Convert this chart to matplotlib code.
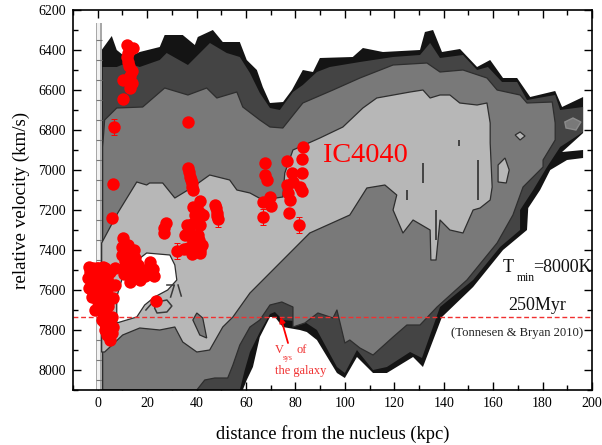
import matplotlib
matplotlib.use("Agg")
from matplotlib import pyplot as plt
from matplotlib.ticker import MultipleLocator

plt.rcParams['font.family'] = ['Liberation Serif', 'DejaVu Serif']

# contour outlines of the simulation map, kpc / km/s
black_x = [1.6, 1.6, 5.7, 7.7, 11.7, 17, 25.1, 27.1, 34.4, 39.3, 40.5, 46.6, 50.6, 57.5, 60.3, 64.4, 66.8, 69.7, 75, 78.6, 83, 87.1, 89.9, 103.2, 107.3, 115.4, 130.4, 132.4, 135.7, 139.3, 146.6, 153.5, 158.8, 164, 169.7, 175, 185.1, 187.9, 196.4, 196.4, 187.9, 196.4, 196.4, 189.9, 183.1, 179, 174.2, 173.7, 164, 151.9, 139.3, 131.6, 127.6, 117, 111.4, 104.9, 100, 96.8, 88.7, 84.6, 81.8, 74.9, 71.7, 69.7, 65.6, 62.8, 60.3, 58.7]
black_y = [8100, 6400, 6330, 6400, 6440, 6410, 6385, 6325, 6325, 6375, 6335, 6300, 6360, 6360, 6450, 6500, 6585, 6665, 6660, 6600, 6500, 6510, 6440, 6435, 6390, 6410, 6400, 6310, 6300, 6410, 6395, 6485, 6450, 6540, 6540, 6635, 6605, 6685, 6635, 6815, 6910, 6900, 6940, 6950, 7000, 7100, 7190, 7300, 7400, 7585, 7735, 7985, 7935, 8015, 8015, 7935, 8040, 8015, 7850, 7810, 7800, 7785, 7735, 7735, 7835, 7985, 8050, 8100]

dark_x = [2, 2, 7.7, 11.7, 17, 25.1, 27.9, 36.5, 45.4, 52.2, 57.5, 61.6, 65.6, 69.7, 73.7, 79, 83, 88.7, 93.9, 106.1, 119.5, 130.4, 134.5, 138.5, 147.8, 153.5, 157.9, 163.6, 169.7, 173.7, 185.1, 187.1, 196.4, 196.4, 187.1, 181.8, 176.2, 170.9, 170.9, 162.8, 151.9, 138.5, 131.2, 126.4, 117, 111.4, 104.9, 100, 96.8, 88.7, 83.8, 74.9, 71.7, 69.7, 65.6, 61.6, 59.5, 57.5]
dark_y = [8100, 6485, 6485, 6465, 6485, 6450, 6415, 6475, 6365, 6415, 6435, 6515, 6615, 6690, 6700, 6610, 6575, 6510, 6485, 6460, 6435, 6425, 6365, 6440, 6425, 6500, 6485, 6560, 6560, 6650, 6625, 6700, 6685, 6810, 6885, 6985, 7100, 7200, 7300, 7385, 7550, 7685, 7940, 7910, 7985, 8000, 7900, 8015, 7985, 7800, 7760, 7750, 7710, 7720, 7810, 7910, 8000, 8100]

medium_x = [2, 2, 2.8, 7.7, 18.2, 27.1, 36.5, 44.1, 48.2, 56.3, 58.7, 65.6, 69.7, 74.9, 83, 95.2, 106.1, 119.5, 133.2, 138.5, 147.8, 157.5, 161.6, 170.9, 173.7, 183.9, 185.1, 185.1, 180.2, 180.2, 172.1, 168, 161.6, 149.4, 137.3, 130.4, 125.1, 119.5, 111.4, 106.1, 102, 100, 96.8, 95.2, 89.1, 83.8, 79, 79, 74.5, 69.7, 65.6, 61.6, 57.5, 54.7, 52.6, 47.4, 43.3, 40.1]
medium_y = [8100, 6885, 6750, 6690, 6685, 6590, 6625, 6590, 6640, 6610, 6685, 6750, 6785, 6790, 6665, 6600, 6540, 6475, 6465, 6510, 6500, 6540, 6600, 6625, 6665, 6660, 6765, 6850, 6950, 6985, 7085, 7225, 7365, 7550, 7685, 7775, 7775, 7835, 7925, 7890, 7850, 7865, 7700, 7740, 7715, 7765, 7785, 7685, 7660, 7675, 7750, 7785, 7875, 7975, 8040, 8040, 8050, 8100]

light_x = [1.6, 1.6, 8.1, 15.8, 19.8, 21, 26.3, 31.2, 38.5, 45.3, 53.4, 56.3, 61.6, 66.8, 74.9, 75.7, 79, 89.9, 99.2, 107.3, 112.9, 126.4, 131.6, 134.5, 138.5, 142.5, 146.5, 153.5, 157.5, 158.8, 158.8, 159.6, 158.8, 154.7, 151.9, 147.8, 142.5, 138.5, 136.9, 134.8, 134.5, 127.6, 123.5, 119.5, 121, 116.2, 108.9, 102, 85.8, 61.6, 54.7, 50.6, 45.3, 40.1, 34.4, 31.2, 25.1, 17, 10.1, 2.8]
light_y = [7910, 7365, 7215, 7060, 7075, 7065, 7065, 7140, 7085, 7025, 7050, 7100, 7115, 7150, 7135, 7015, 6900, 6840, 6785, 6690, 6640, 6610, 6600, 6640, 6625, 6625, 6665, 6675, 6665, 6765, 6865, 7085, 7150, 7190, 7200, 7315, 7300, 7250, 7450, 7450, 7300, 7250, 7315, 7200, 7125, 7075, 7090, 7225, 7315, 7615, 7735, 7785, 7900, 7910, 7860, 7785, 7800, 7790, 7825, 7910]

core_x = [7.7, 7.7, 10.9, 19.8, 29.2, 31.2, 32, 28.3, 23, 19, 15.8]
core_y = [7765, 7635, 7500, 7415, 7425, 7475, 7550, 7600, 7635, 7675, 7735]

island_x = [40.1, 42.5, 44.1, 41.3, 38.5]
island_y = [7715, 7740, 7840, 7825, 7750]
finger_x = [162, 164.8, 166.5, 165.3, 162]
finger_y = [6975, 6940, 7000, 7065, 7060]
spot_x = [168.9, 170.9, 172.9, 170.9]
spot_y = [6825, 6810, 6830, 6850]
ring_x = [189, 192.3, 195.5, 193.5, 189.5]
ring_y = [6760, 6740, 6760, 6800, 6790]

# thin dark streaks: x, y from, y to
streak_x = [131.6, 153.9, 125.1, 146, 137]
streak_from = [6965, 6950, 7100, 6850, 7200]
streak_to = [7065, 7150, 7150, 6880, 7350]
mark_x = [[24, 28, 30, 28, 24, 23, 24], [28, 31, 29.5], [32.5, 33.8], [19.5, 22]]
mark_y = [[7660, 7650, 7680, 7710, 7715, 7690, 7660], [7575, 7575, 7635], [7575, 7630], [7700, 7665]]

# strip at the left edge of the map and its ticks
strip_ticks = [6350, 6450, 6550, 6650, 6750, 6850, 6950, 7050, 7150, 7250, 7350, 7450, 7550, 7650, 7750, 7850, 7950, 8050]

# measured points
dist = [11.8, 14.2, 12.2, 12.2, 13.8, 10.1, 13.8, 13.0, 10.1, 6.5, 36.5, 6.1, 36.5, 37.3, 38.1, 38.5, 41.3, 38.5, 41.3, 47.4, 48.2, 5.7,
	27.6, 26.7, 26.7, 48.6, 39.3, 42.5, 36, 41.3, 35.3, 40.5, 38.5, 42.1, 41.3, 36.5, 32,
	10.1, 9.7, 12.2, 9.7, 12.2, 13, 16.2, 21.1, 22.3, 22.7, 17, 13, 17, 13, 6.9, 2, 6.9, 6.1, 23.5,
	-3.6, -4, -3.6, -2.4, -1.2, 0.8, 0, 1.6, -0.4, 3.6, 3.6, 5.7, 1.6, 2.8, 6.1, 4.9, 3.6, 5.7, 0.4, 2.4,
	83.1, 82.7, 76.6, 67.7, 67.7, 68.5, 78.6, 82.7, 79, 76.6, 81.8, 82.7, 77, 77.8, 69.7, 66.9, 70.1, 77.4, 66.9, 81.4,
	-3, -2, -1, 0, 1, 2, 3, 4, -2, 0, 1, 2, 3, 4, 5, 3.5, 5, 3, 4, 5, 2, 2,
	10.5, 10.5, 15, 15, 15, 19, 19, 11, 14.5,
	37, 38, 35, 39, 40, 38, 41, 41.5, 38, 40, 48, 48.4, 12, 12.5, 13, 36.9, 37.7, 38.3]
vel = [6375, 6390, 6415, 6460, 6505, 6550, 6565, 6590, 6645, 6785, 6760, 7070, 6990, 7035, 7065, 7100, 7155, 7185, 7215, 7175, 7215, 7240,
	7265, 7315, 7290, 7245, 7225, 7225, 7275, 7275, 7325, 7325, 7365, 7375, 7415, 7390, 7405,
	7340, 7385, 7375, 7425, 7425, 7465, 7475, 7460, 7495, 7530, 7550, 7560, 7510, 7515, 7490, 7485, 7575, 7640, 7655,
	7485, 7540, 7590, 7635, 7700, 7535, 7600, 7665, 7490, 7535, 7600, 7735, 7750, 7800, 7785, 7850, 7825, 7815, 7650, 7700,
	6885, 6945, 6955, 6965, 7025, 7050, 7015, 7015, 7060, 7075, 7085, 7105, 7115, 7150, 7135, 7160, 7180, 7215, 7235, 7275,
	7510, 7560, 7610, 7660, 7700, 7740, 7770, 7800, 7490, 7490, 7560, 7590, 7640, 7680, 7640, 7720, 7770, 7490, 7560, 7510, 7560, 7620,
	7490, 7520, 7440, 7500, 7540, 7500, 7530, 7455, 7400,
	7300, 7340, 7395, 7400, 7250, 7270, 7350, 7400, 7420, 7190, 7190, 7230, 6435, 6480, 6530, 7010, 7050, 7085]

err_dist = [6.5, 48.6, 66.9, 81.4, 32, 16.2]
err_vel = [6785, 7245, 7235, 7275, 7405, 7475]
err_size = [38, 38, 38, 38, 38, 38]

fig = plt.figure(figsize=(6.02, 4.45), dpi=100)
ax = fig.add_axes([73 / 602, 1 - 390 / 445, (592 - 73) / 602, (390 - 10) / 445])

ax.fill(black_x, black_y, color='#141414', lw=0, zorder=1)
ax.fill(dark_x, dark_y, color='#444444', lw=0, zorder=2)
ax.fill(medium_x, medium_y, facecolor='#797979', edgecolor='#2e2e2e', lw=0.9, joinstyle='round', zorder=3)
ax.fill(light_x, light_y, facecolor='#b7b7b7', edgecolor='#2e2e2e', lw=0.9, joinstyle='round', zorder=4)
ax.fill(core_x, core_y, facecolor='white', edgecolor='#2e2e2e', lw=0.9, joinstyle='round', zorder=5)
ax.fill(island_x, island_y, facecolor='#797979', edgecolor='#2e2e2e', lw=0.9, zorder=5)
ax.fill(finger_x, finger_y, facecolor='#b7b7b7', edgecolor='#2e2e2e', lw=0.9, zorder=5)
ax.fill(spot_x, spot_y, facecolor='#b7b7b7', edgecolor='#2e2e2e', lw=0.9, zorder=5)
ax.fill(ring_x, ring_y, facecolor='#797979', edgecolor='#8c8c8c', lw=1.0, zorder=5)
ax.vlines(streak_x, streak_from, streak_to, color='#3a3a3a', lw=1.3, zorder=5)
for mx, my in zip(mark_x, mark_y):
	ax.plot(mx, my, color='#3a3a3a', lw=1.1, zorder=5)

ax.axvspan(-0.8, 1.6, ymin=0, ymax=(8100 - 6265) / 1900, color='#a8a8a8', lw=0, zorder=2)
ax.axvspan(-0.3, 0.9, ymin=0, ymax=(8100 - 6265) / 1900, color='#f2f2f2', lw=0, zorder=2)
ax.hlines(strip_ticks, -0.8, 1.6, color='#777777', lw=0.8, zorder=2)

ax.axhline(7735, color='#f03030', lw=1.0, ls=(0, (3.5, 2)), zorder=6)

ax.errorbar(err_dist, err_vel, yerr=err_size, fmt='none', ecolor='red', elinewidth=0.7, capsize=2, capthick=0.7, zorder=7)
ax.scatter(dist, vel, s=80, color='red', lw=0, zorder=8)

ax.set_xlim(-10, 200)
ax.set_ylim(8100, 6200)
ax.xaxis.set_major_locator(MultipleLocator(20))
ax.xaxis.set_minor_locator(MultipleLocator(10))
ax.yaxis.set_major_locator(MultipleLocator(200))
ax.yaxis.set_minor_locator(MultipleLocator(100))
ax.tick_params(which='major', direction='in', length=6, width=1.0, top=True, right=True, labelsize=10, pad=5)
ax.tick_params(which='minor', direction='in', length=3.5, width=1.0, top=True, right=True)
for s in ax.spines.values():
	s.set_linewidth(1.2)
	s.set_zorder(10)

ax.set_xlabel("distance from the nucleus (kpc)", fontsize=13.3, labelpad=11)
ax.set_ylabel("relative velocity (km/s)", fontsize=13.7, labelpad=6)

ax.text(91, 6925, "IC4040", color='red', fontsize=20.3, va='center', zorder=9)
ax.text(164, 7490, "T", color='#111111', fontsize=13, va='center', zorder=9)
ax.text(169.4, 7540, "min", color='#111111', fontsize=8.5, va='center', zorder=9)
ax.text(176, 7490, "=8000K", color='#111111', fontsize=13, va='center', zorder=9)
ax.text(178, 7680, "250Myr", color='#111111', fontsize=13, va='center', ha='center', zorder=9)
ax.text(143, 7815, "(Tonnesen & Bryan 2010)", color='#222222', fontsize=9.1, va='center', zorder=9)

ax.text(71.7, 7900, "V", color='#f03030', fontsize=8.9, va='center', zorder=9)
ax.text(75, 7940, "sys", color='#f03030', fontsize=5.5, va='center', zorder=9)
ax.text(80.5, 7900, "of", color='#f03030', fontsize=8.9, va='center', zorder=9)
ax.text(71.7, 8005, "the galaxy", color='#f03030', fontsize=8.9, va='center', zorder=9)
ax.annotate("", xy=(74, 7735), xytext=(77, 7865), zorder=9,
	arrowprops=dict(arrowstyle='-|>', color='red', lw=1.3, mutation_scale=8, shrinkA=0, shrinkB=0))

plt.savefig("out.png", dpi=100)
plt.close(fig)
